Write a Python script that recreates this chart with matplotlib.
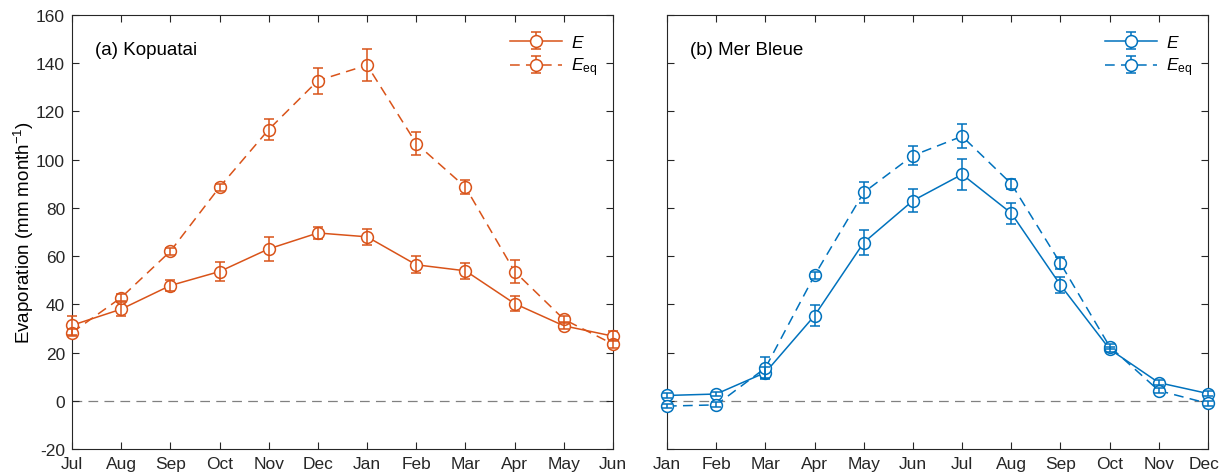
import matplotlib
matplotlib.use('Agg')
import matplotlib.pyplot as plt
import matplotlib.transforms as mtransforms
import numpy as np

plt.rcParams['font.family'] = ['Liberation Sans', 'DejaVu Sans']
plt.rcParams['mathtext.fontset'] = 'custom'
plt.rcParams['mathtext.rm'] = 'Liberation Sans'
plt.rcParams['mathtext.it'] = 'Liberation Sans:italic'
plt.rcParams['lines.scale_dashes'] = False
plt.rcParams['axes.unicode_minus'] = False

# (a) Kopuatai, hydrological year Jul-Jun
months_a = ['Jul', 'Aug', 'Sep', 'Oct', 'Nov', 'Dec', 'Jan', 'Feb', 'Mar', 'Apr', 'May', 'Jun']
E_a = [31.3, 38.0, 47.8, 53.6, 63.0, 69.6, 68.0, 56.4, 53.9, 40.3, 31.1, 26.8]
E_a_err = [4.0, 3.0, 2.2, 4.0, 5.0, 2.5, 3.3, 3.5, 3.2, 3.0, 1.5, 2.0]
Eeq_a = [28.3, 42.8, 62.0, 88.6, 112.5, 132.8, 139.2, 106.7, 88.6, 53.6, 33.8, 23.5]
Eeq_a_err = [1.5, 1.5, 1.5, 1.5, 4.5, 5.4, 6.5, 4.6, 3.0, 4.7, 1.5, 1.8]

# (b) Mer Bleue, calendar year Jan-Dec
months_b = ['Jan', 'Feb', 'Mar', 'Apr', 'May', 'Jun', 'Jul', 'Aug', 'Sep', 'Oct', 'Nov', 'Dec']
E_b = [2.2, 2.8, 11.7, 35.3, 65.6, 83.0, 93.9, 77.8, 48.0, 21.4, 7.5, 3.0]
E_b_err = [1.0, 1.0, 2.2, 4.4, 5.3, 4.7, 6.4, 4.3, 3.3, 1.0, 1.0, 1.0]
Eeq_b = [-2.2, -1.7, 13.6, 52.0, 86.4, 101.7, 109.7, 90.0, 57.0, 22.5, 4.2, -1.1]
Eeq_b_err = [1.0, 1.0, 4.7, 1.5, 4.2, 3.9, 5.0, 2.0, 2.5, 1.0, 1.0, 1.0]

ORANGE = '#D95319'
BLUE = '#0072BD'
AXCOL = '#262626'


def draw_panel(ax, months, E, E_err, Eeq, Eeq_err, color, title, show_ylabels):
    x = np.arange(1, len(months) + 1)
    ax.axhline(0, color='#808080', lw=0.9, dashes=(7, 4.5), zorder=1)
    series = [(E, E_err, '-', r'$E$'), (Eeq, Eeq_err, (0, (7, 4.5)), r'$E_{\mathrm{eq}}$')]
    for vals, errs, ls, lab in series:
        eb = ax.errorbar(x, vals, yerr=errs, color=color, lw=1.1, ls=ls,
                         marker='o', markersize=8.5, markerfacecolor='white',
                         markeredgecolor=color, markeredgewidth=1.1,
                         ecolor=color, elinewidth=1.1, capsize=3.6, capthick=1.1,
                         label=lab, clip_on=False, zorder=3)
        # error bars drawn over the open markers, as in the original
        for c in eb[1]:
            c.set_zorder(4)
            c.set_clip_on(False)
        for c in eb[2]:
            c.set_zorder(4)
            c.set_clip_on(False)
        eb[0].set_clip_on(False)

    ax.set_xlim(1, 12)
    ax.set_ylim(-20, 160)
    ax.set_xticks(x)
    ax.set_xticklabels(months)
    ax.set_yticks(np.arange(-20, 161, 20))
    if not show_ylabels:
        ax.set_yticklabels([])
    ax.tick_params(direction='in', top=True, right=True, length=5, width=0.8,
                   colors=AXCOL, labelsize=12.5, pad=5)
    for s in ax.spines.values():
        s.set_color(AXCOL)
        s.set_linewidth(0.8)
    ax.text(0.042, 0.92, title, transform=ax.transAxes, fontsize=13.5,
            color='black', ha='left', va='center')
    ax.legend(loc='upper right', bbox_to_anchor=(1.0, 0.993), frameon=False,
              fontsize=12.5, handlelength=3.0, borderaxespad=0.5,
              labelspacing=0.35, handletextpad=0.5)
    return ax


fig = plt.figure(figsize=(12.2, 4.77), dpi=100)
ax1 = fig.add_axes([72 / 1220, 1 - 450 / 477, 541 / 1220, 434 / 477])
ax2 = fig.add_axes([667 / 1220, 1 - 450 / 477, 541 / 1220, 434 / 477])

draw_panel(ax1, months_a, E_a, E_a_err, Eeq_a, Eeq_a_err, ORANGE, '(a) Kopuatai', True)
draw_panel(ax2, months_b, E_b, E_b_err, Eeq_b, Eeq_b_err, BLUE, '(b) Mer Bleue', False)

# nudge the last month label so it stays inside the picture
last = ax2.get_xticklabels()[-1]
last.set_transform(last.get_transform() +
                   mtransforms.ScaledTranslation(-3 / 72, 0, fig.dpi_scale_trans))

ax1.set_ylabel(r'Evaporation (mm month$^{-1}$)', fontsize=13.5, labelpad=0)

fig.savefig('out.png', dpi=100)
